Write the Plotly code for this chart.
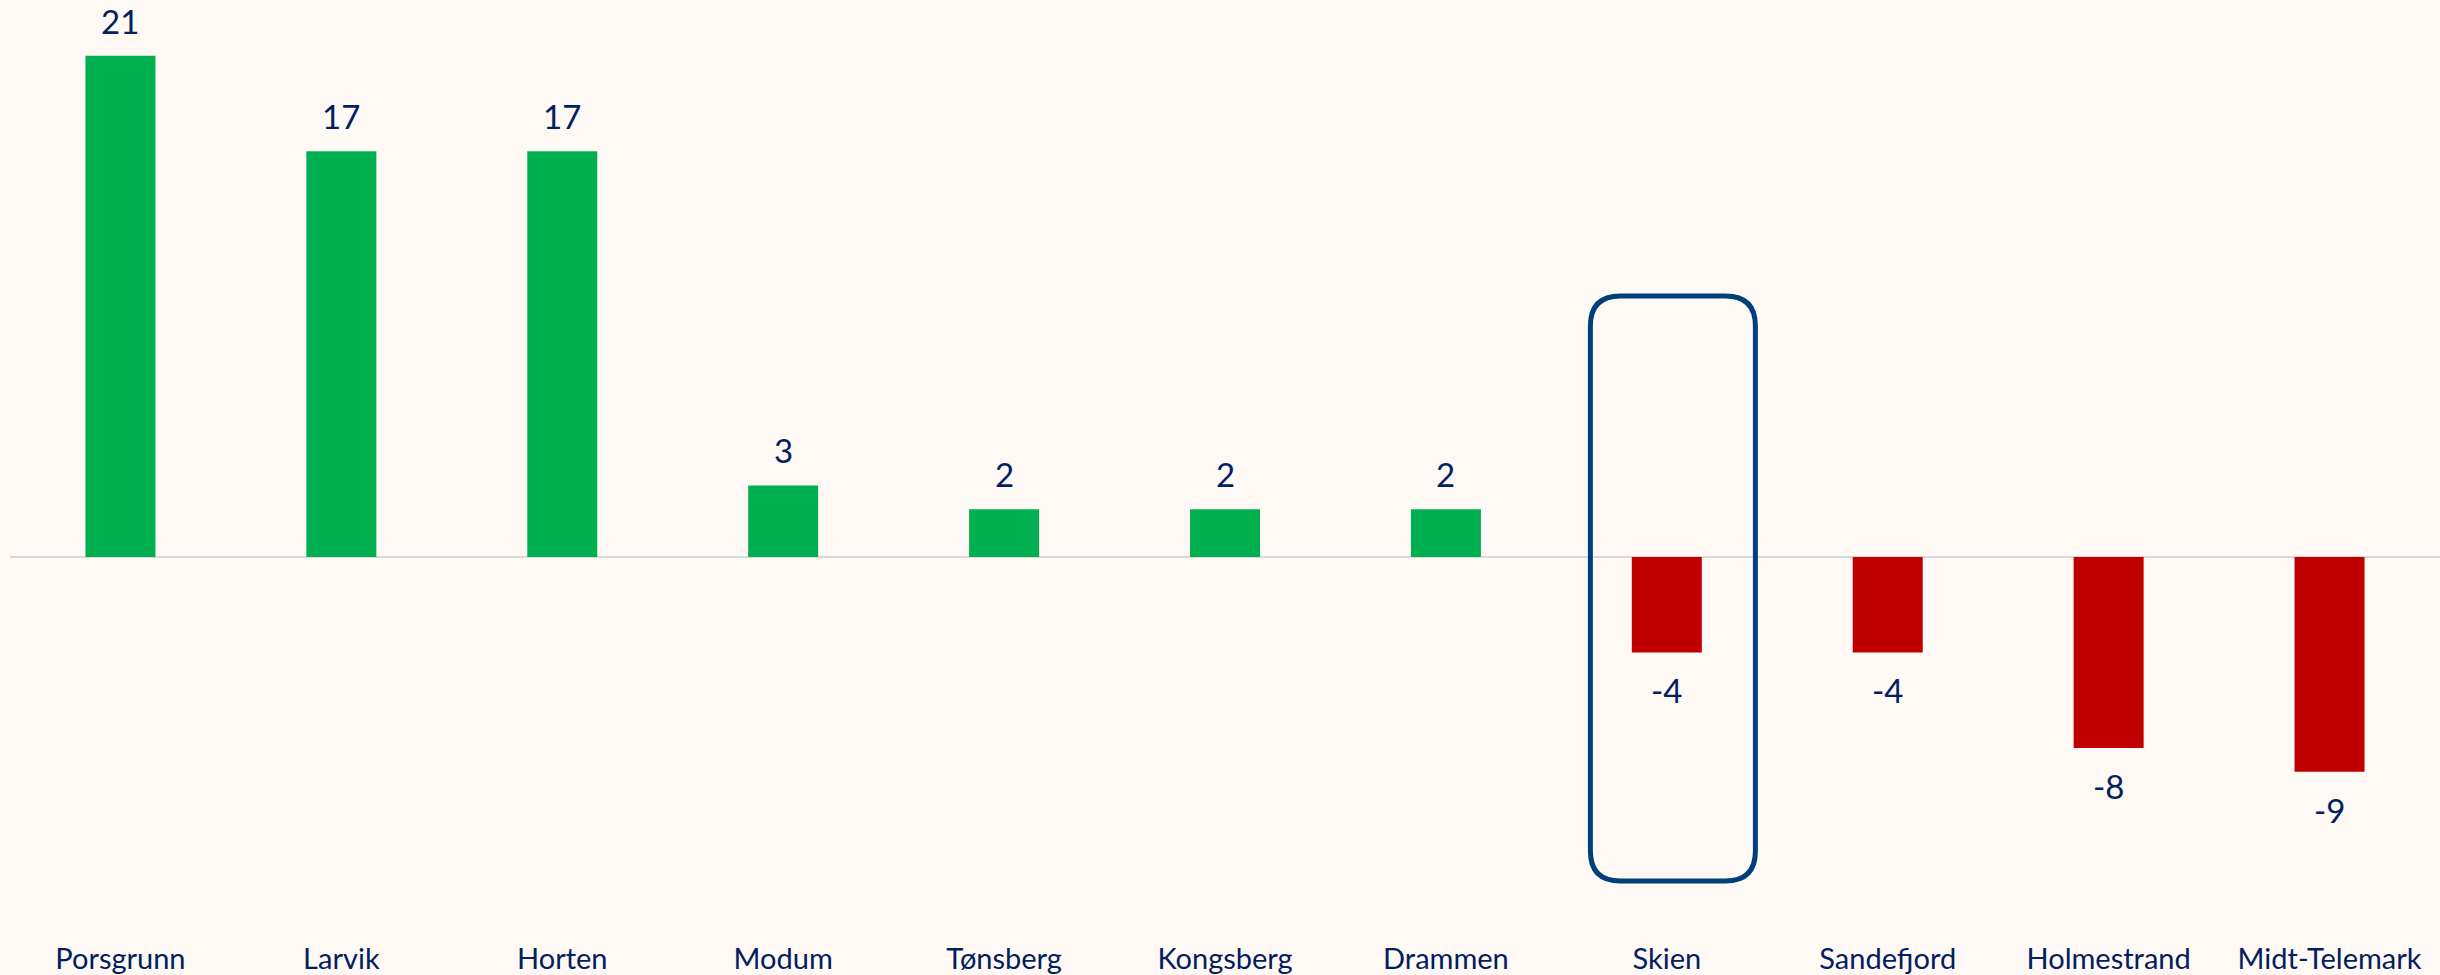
import plotly.graph_objects as go

categories = ["Porsgrunn", "Larvik", "Horten", "Modum", "Tønsberg", "Kongsberg",
              "Drammen", "Skien", "Sandefjord", "Holmestrand", "Midt-Telemark"]
values = [21, 17, 17, 3, 2, 2, 2, -4, -4, -8, -9]
highlight = "Skien"

GREEN = "#00B050"
RED = "#C00000"
NAVY = "#002060"
BOX = "#00407A"
BG = "#FEF9F5"
FONT = "Lato"

W, H = 2440, 975
ML, MR, MT, MB = 10, 0, 0, 40
XR = [-0.5, len(categories) - 0.5]
YR = [-15.84, 23.34]
plot_w = W - ML - MR
plot_h = H - MT - MB
px_x = plot_w / (XR[1] - XR[0])
px_y = plot_h / (YR[1] - YR[0])

xs = list(range(len(categories)))
colors = [GREEN if v >= 0 else RED for v in values]

fig = go.Figure()
fig.add_trace(go.Bar(x=xs, y=values, marker=dict(color=colors, line=dict(width=0)),
                     width=70 / px_x, hoverinfo="skip"))

for x, v in zip(xs, values):
    if v >= 0:
        fig.add_annotation(x=x, y=v, text=str(v), showarrow=False, yanchor="bottom",
                           yshift=13, font=dict(family=FONT, size=33, color=NAVY))
    else:
        fig.add_annotation(x=x, y=v, text=str(v), showarrow=False, yanchor="top",
                           yshift=-16, font=dict(family=FONT, size=33, color=NAVY))

# rounded highlight box around Skien
hi = categories.index(highlight)
x0, x1 = hi - 0.346, hi + 0.401
y0, y1 = -13.58, 10.94
r = 30
rx, ry = r / px_x, r / px_y
path = (f"M {x0+rx},{y1} L {x1-rx},{y1} Q {x1},{y1} {x1},{y1-ry} "
        f"L {x1},{y0+ry} Q {x1},{y0} {x1-rx},{y0} "
        f"L {x0+rx},{y0} Q {x0},{y0} {x0},{y0+ry} "
        f"L {x0},{y1-ry} Q {x0},{y1} {x0+rx},{y1} Z")
fig.add_shape(type="path", path=path, xref="x", yref="y",
              line=dict(color=BOX, width=5), fillcolor="rgba(0,0,0,0)")

fig.update_layout(
    width=W, height=H,
    margin=dict(l=ML, r=MR, t=MT, b=MB),
    paper_bgcolor=BG, plot_bgcolor=BG,
    showlegend=False,
    font=dict(family=FONT, color=NAVY),
    xaxis=dict(range=XR, tickmode="array", tickvals=xs, ticktext=categories,
               showgrid=False, zeroline=False, showline=False, ticks="",
               ticklabelstandoff=4,
               tickfont=dict(family=FONT, size=29, color=NAVY), fixedrange=True),
    yaxis=dict(range=YR, showgrid=False, showticklabels=False, ticks="",
               zeroline=True, zerolinecolor="#D9D9D9", zerolinewidth=2,
               showline=False, fixedrange=True),
)

fig.write_html("out.html", config={"displayModeBar": False},
               post_script="document.body.style.margin='0';document.body.style.overflow='hidden';")
